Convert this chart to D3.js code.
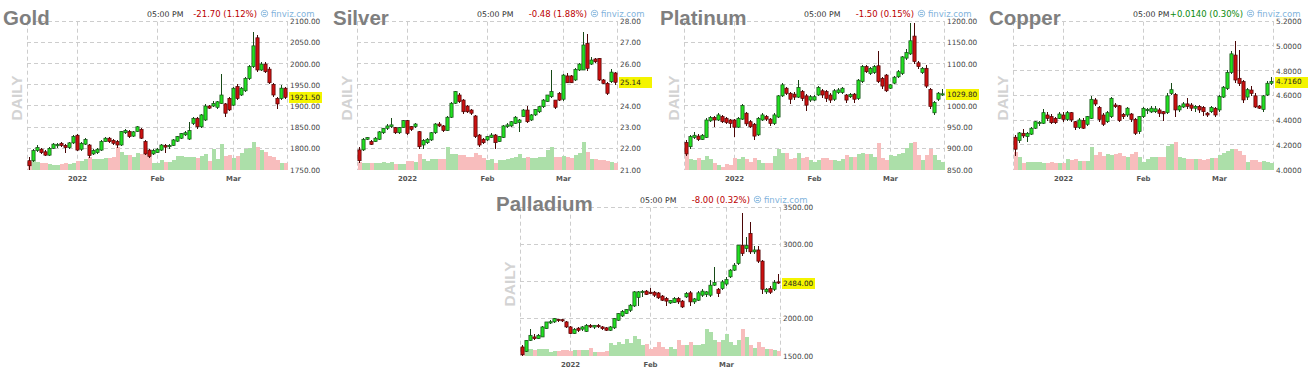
<!DOCTYPE html>
<html><head><meta charset="utf-8">
<script src="https://cdn.jsdelivr.net/npm/d3@7"></script>
<style>body{margin:0;background:#fff}svg{display:block}</style>
</head><body>
<svg id="chart" width="1312" height="376"></svg>
<script>
// ---------- data ----------
const dates = [
 "2021-12-15","2021-12-16","2021-12-17","2021-12-20","2021-12-21","2021-12-22","2021-12-23","2021-12-27","2021-12-28","2021-12-29","2021-12-30","2021-12-31",
 "2022-01-03","2022-01-04","2022-01-05","2022-01-06","2022-01-07","2022-01-10","2022-01-11","2022-01-12","2022-01-13","2022-01-14","2022-01-18","2022-01-19","2022-01-20","2022-01-21","2022-01-24","2022-01-25","2022-01-26","2022-01-27","2022-01-28","2022-01-31",
 "2022-02-01","2022-02-02","2022-02-03","2022-02-04","2022-02-07","2022-02-08","2022-02-09","2022-02-10","2022-02-11","2022-02-14","2022-02-15","2022-02-16","2022-02-17","2022-02-18","2022-02-22","2022-02-23","2022-02-24","2022-02-25","2022-02-28",
 "2022-03-01","2022-03-02","2022-03-03","2022-03-04","2022-03-07","2022-03-08","2022-03-09","2022-03-10","2022-03-11","2022-03-14","2022-03-15","2022-03-16","2022-03-17","2022-03-18"];

const commodities = ["Gold","Silver","Platinum","Copper","Palladium"];
const changeLabels = ["-21.70 (1.12%)","-0.48 (1.88%)","-1.50 (0.15%)","+0.0140 (0.30%)","-8.00 (0.32%)"];
const lastPrices = [1921.50, 25.14, 1029.80, 4.7160, 2484.00];
const timeLabel = "05:00 PM";

const goldTicks = [1750,1800,1850,1900,1950,2000,2050,2100];
const silverTicks = [21,22,23,24,25,26,27,28];
const platinumTicks = [850,900,950,1000,1050,1100,1150,1200];
const copperTicks = [4.0,4.2,4.4,4.6,4.8,5.0,5.2];
const palladiumTicks = [1500,2000,2500,3000,3500];

const goldOpen = [1772,1772,1796,1799,1793,1785,1801,1808,1813,1808,1803,1814,1832,1799,1811,1809,1788,1791,1797,1817,1825,1820,1817,1809,1838,1841,1830,1841,1846,1817,1797,1788,1791,1797,1808,1805,1808,1818,1825,1833,1823,1860,1872,1852,1868,1901,1901,1898,1907,1906,1919,1903,1947,1927,1937,1966,1994,2062,1986,2000,1988,1952,1919,1919,1943];
const goldHigh = [1781,1800,1810,1803,1797,1804,1814,1813,1817,1812,1816,1832,1834,1816,1826,1812,1799,1803,1820,1829,1828,1823,1820,1843,1846,1844,1843,1855,1850,1820,1800,1799,1802,1811,1812,1812,1824,1831,1838,1841,1864,1875,1875,1882,1905,1904,1914,1913,1977,1909,1923,1946,1952,1946,1969,1997,2076,2068,2005,2004,1992,1956,1922,1950,1946];
const goldLow = [1750,1770,1793,1787,1783,1784,1799,1803,1805,1790,1800,1812,1795,1796,1809,1778,1785,1788,1795,1815,1814,1810,1803,1806,1835,1826,1828,1839,1822,1785,1778,1786,1789,1795,1790,1800,1806,1816,1823,1830,1820,1857,1847,1849,1866,1893,1898,1895,1905,1876,1889,1900,1915,1924,1934,1963,1990,1982,1983,1978,1952,1922,1894,1916,1917];
const goldClose = [1760,1796,1803,1791,1785,1801,1811,1810,1808,1803,1814,1829,1797,1813,1822,1784,1796,1799,1817,1825,1817,1813,1809,1841,1843,1829,1840,1852,1825,1788,1782,1796,1799,1809,1804,1808,1821,1829,1836,1838,1843,1872,1852,1880,1901,1896,1907,1911,1927,1884,1892,1943,1919,1943,1966,1994,2043,1986,2000,1982,1956,1927,1906,1943.2,1921.5];
const goldVolume = [8,9,8,7,7,6,5,5,6,7,6,7,9,9,11,13,11,11,11,12,12,13,23,18,15,15,13,17,16,18,13,7,7,10,8,8,10,14,14,13,13,13,12,14,16,9,21,11,26,14,15,12,14,17,21,22,28,23,20,18,14,13,10,7,7];

const silverOpen = [21.95,21.95,22.45,22.34,22.34,22.45,22.76,22.97,23.05,23.00,22.76,23.00,23.33,23.05,23.05,22.81,22.18,22.29,22.42,22.76,23.17,23.08,22.86,23.49,24.15,24.54,24.30,24.02,23.83,23.55,22.65,22.45,22.42,22.54,22.65,22.34,22.54,23.05,23.08,23.20,23.24,23.52,23.83,23.36,23.60,23.75,23.99,24.23,24.46,24.30,24.62,24.34,25.44,25.44,25.25,25.72,25.72,26.98,26.00,26.24,26.27,25.25,25.09,25.17,25.58];
const silverHigh = [22.10,22.50,22.58,22.40,22.55,22.85,23.00,23.15,23.47,23.05,23.05,23.36,23.38,23.10,23.22,22.86,22.45,22.50,22.80,23.20,23.25,23.12,23.55,24.20,24.75,24.62,24.34,24.08,23.88,23.60,22.70,22.50,22.62,22.75,22.70,22.62,23.13,23.20,23.30,23.55,23.40,23.88,24.00,23.64,23.90,24.02,24.35,24.55,25.70,24.05,24.68,25.55,25.60,25.50,25.80,26.05,27.50,27.40,26.35,26.30,26.30,25.30,25.15,25.75,25.62];
const silverLow = [21.35,21.90,22.40,22.18,22.30,22.42,22.72,22.90,23.00,22.70,22.72,22.97,22.65,22.85,23.00,22.00,22.00,22.25,22.38,22.72,23.05,22.80,22.82,23.45,24.10,24.15,23.65,23.70,23.60,22.50,22.10,22.25,22.38,22.50,21.98,22.30,22.50,23.00,23.05,23.16,22.80,23.48,23.20,23.30,23.55,23.70,23.95,24.20,24.40,23.90,24.25,24.25,25.10,25.10,25.20,25.68,25.70,25.65,25.95,26.05,25.20,25.05,24.55,25.10,25.00];
const silverClose = [21.44,22.45,22.53,22.21,22.50,22.80,22.97,23.08,23.13,22.76,23.00,23.33,22.73,22.92,23.17,22.10,22.40,22.45,22.76,23.17,23.08,22.86,23.49,24.15,24.70,24.23,23.75,23.75,23.68,22.58,22.18,22.29,22.58,22.65,22.29,22.58,23.08,23.13,23.28,23.49,23.36,23.83,23.28,23.60,23.86,23.99,24.30,24.54,24.70,23.96,24.30,25.48,25.12,25.12,25.75,26.00,26.90,25.80,26.19,26.11,25.25,25.09,24.62,25.62,25.14];
const silverVolume = [8,7,7,7,7,7,8,7,8,6,6,6,9,9,8,16,11,9,11,11,11,11,23,16,16,15,15,13,13,17,15,12,10,11,7,10,10,11,12,13,16,12,13,12,12,13,13,20,23,13,13,14,13,12,15,17,28,18,11,11,10,10,9,8,7];

const platinumOpen = [915,905,927,930,922,927,966,974,968,976,972,968,968,951,970,984,964,958,933,968,976,970,960,975,1025,1043,1031,1029,1022,1035,1025,1015,1015,1027,1037,1035,1027,1017,1033,1033,1027,1023,1029,1019,1059,1094,1078,1080,1096,1066,1074,1043,1055,1070,1078,1114,1124,1166,1103,1080,1090,1040,985,1017,1027];
const platinumHigh = [920,932,940,934,936,972,978,977,985,979,975,971,971,976,1005,988,968,961,976,984,980,973,984,1028,1055,1047,1035,1033,1062,1039,1029,1027,1027,1048,1041,1039,1031,1040,1043,1047,1030,1032,1032,1065,1097,1098,1093,1097,1132,1069,1077,1054,1072,1085,1120,1135,1196,1196,1107,1093,1097,1043,1012,1034,1042];
const platinumLow = [882,900,924,919,920,925,963,952,965,960,958,950,928,948,967,955,948,920,930,965,966,955,957,972,1022,1027,1005,1015,1019,1012,990,1011,1012,1024,1020,1010,1008,1014,1029,1030,1007,1019,1008,1016,1056,1079,1075,1077,1055,1040,1033,1040,1052,1067,1075,1110,1121,1100,1088,1077,1044,995,980,1014,1024];
const platinumClose = [888,929,932,922,932,968,974,968,980,964,962,960,951,972,1002,959,952,930,972,980,970,960,980,1025,1051,1031,1017,1022,1045,1019,1003,1023,1023,1045,1027,1019,1015,1037,1039,1043,1015,1028,1017,1062,1094,1082,1090,1094,1059,1048,1037,1051,1069,1082,1117,1127,1155,1106,1094,1090,1048,1000,1009,1031.3,1029.8];
const platinumVolume = [16,11,10,12,10,14,11,7,5,3,6,5,12,11,13,11,8,12,10,7,7,7,14,21,17,17,11,12,17,12,13,10,8,10,12,12,10,10,9,11,15,13,13,16,17,16,16,13,27,12,10,15,14,16,17,22,27,28,15,10,15,21,15,10,8];

const copperOpen = [4.265,4.238,4.297,4.270,4.290,4.338,4.378,4.378,4.445,4.432,4.418,4.418,4.445,4.410,4.464,4.391,4.345,4.400,4.370,4.418,4.567,4.507,4.445,4.391,4.432,4.526,4.520,4.450,4.445,4.453,4.410,4.311,4.432,4.480,4.470,4.472,4.486,4.472,4.465,4.620,4.610,4.486,4.510,4.535,4.526,4.500,4.515,4.507,4.460,4.472,4.499,4.486,4.590,4.660,4.790,4.930,4.742,4.715,4.590,4.647,4.600,4.518,4.490,4.607,4.702];
const copperHigh = [4.28,4.31,4.33,4.31,4.35,4.40,4.40,4.49,4.47,4.45,4.43,4.47,4.47,4.48,4.47,4.40,4.42,4.42,4.44,4.60,4.58,4.52,4.46,4.48,4.59,4.54,4.53,4.46,4.51,4.46,4.42,4.44,4.51,4.50,4.52,4.52,4.50,4.48,4.62,4.70,4.62,4.53,4.55,4.58,4.54,4.53,4.53,4.52,4.47,4.52,4.51,4.61,4.68,4.81,4.96,5.04,4.97,4.73,4.66,4.68,4.62,4.53,4.61,4.72,4.75];
const copperLow = [4.11,4.22,4.26,4.23,4.28,4.33,4.36,4.37,4.40,4.37,4.37,4.41,4.39,4.40,4.39,4.32,4.33,4.33,4.36,4.41,4.52,4.39,4.36,4.38,4.42,4.50,4.39,4.41,4.43,4.39,4.28,4.29,4.42,4.45,4.46,4.46,4.43,4.40,4.45,4.61,4.43,4.47,4.50,4.49,4.48,4.47,4.46,4.44,4.43,4.46,4.43,4.47,4.58,4.65,4.78,4.70,4.68,4.54,4.57,4.60,4.50,4.49,4.47,4.60,4.69];
const copperClose = [4.168,4.300,4.276,4.297,4.338,4.391,4.386,4.464,4.418,4.383,4.383,4.453,4.410,4.464,4.405,4.345,4.405,4.338,4.432,4.572,4.534,4.410,4.370,4.464,4.580,4.513,4.400,4.432,4.500,4.410,4.297,4.432,4.499,4.490,4.500,4.495,4.459,4.455,4.600,4.650,4.486,4.518,4.535,4.515,4.500,4.515,4.486,4.472,4.445,4.507,4.445,4.594,4.670,4.790,4.940,4.728,4.700,4.567,4.650,4.620,4.510,4.500,4.600,4.702,4.716];
const copperVolume = [18,13,7,8,8,8,8,7,7,8,7,7,7,11,10,11,9,9,9,23,15,18,14,16,15,16,17,14,13,16,18,13,8,11,13,13,13,13,24,26,28,13,12,11,11,11,11,10,11,12,12,15,17,19,21,21,19,15,8,10,10,8,9,8,7];

const palladiumOpen = [1622,1563,1711,1757,1734,1757,1869,1945,1960,1995,1990,1960,1892,1802,1875,1862,1832,1910,1890,1912,1892,1880,1847,1880,1982,2040,2072,2117,2175,2290,2355,2375,2360,2360,2350,2308,2275,2215,2220,2275,2240,2297,2352,2230,2252,2320,2330,2320,2455,2400,2410,2470,2568,2658,2748,2995,2950,3153,2905,2930,2779,2365,2410,2400,2500];
const palladiumHigh = [1650,1720,1870,1790,1790,1900,1965,1990,2010,2005,2000,1970,1900,1880,1890,1900,1925,1925,1920,1925,1900,1890,1900,2015,2080,2120,2140,2200,2380,2380,2385,2390,2420,2380,2365,2320,2290,2260,2290,2290,2260,2360,2370,2280,2370,2400,2380,2520,2700,2420,2530,2560,2680,2760,3000,3423,3100,3311,2980,2990,2800,2420,2450,2520,2610];
const palladiumLow = [1505,1550,1700,1720,1725,1750,1860,1935,1950,1965,1960,1880,1790,1795,1820,1840,1820,1880,1870,1880,1850,1835,1840,1870,1970,2030,2060,2100,2160,2180,2300,2320,2330,2300,2270,2240,2180,2200,2210,2200,2150,2280,2180,2200,2240,2300,2300,2300,2440,2300,2390,2450,2550,2640,2730,2850,2900,2880,2870,2760,2330,2330,2340,2380,2470];
const palladiumClose = [1518,1711,1779,1734,1779,1892,1959,1962,2004,1985,1975,1892,1802,1860,1847,1892,1914,1892,1914,1895,1869,1847,1892,2004,2072,2100,2127,2185,2365,2365,2372,2330,2342,2320,2285,2252,2240,2250,2275,2230,2162,2342,2230,2270,2352,2375,2365,2455,2490,2342,2500,2530,2658,2725,2995,2883,2990,2905,2930,2779,2400,2400,2360,2492,2484];
const palladiumVolume = [9,7,7,6,7,7,7,4,5,5,6,6,5,6,6,6,6,8,4,4,4,5,13,11,14,12,17,13,20,17,11,12,7,9,14,9,7,9,7,16,11,11,14,11,11,12,27,24,16,14,16,22,14,11,16,27,19,11,8,14,9,7,7,6,5];

// ---------- layout ----------
const origins = [[0,0],[330,0],[657,0],[986,0],[493,186]];
const plotL = 27, plotW = 260, plotT = 21.7, plotB = 170;
const decimals = [2,2,2,4,2];

const series = [
 {o:goldOpen,h:goldHigh,l:goldLow,c:goldClose,v:goldVolume,t:goldTicks},
 {o:silverOpen,h:silverHigh,l:silverLow,c:silverClose,v:silverVolume,t:silverTicks},
 {o:platinumOpen,h:platinumHigh,l:platinumLow,c:platinumClose,v:platinumVolume,t:platinumTicks},
 {o:copperOpen,h:copperHigh,l:copperLow,c:copperClose,v:copperVolume,t:copperTicks},
 {o:palladiumOpen,h:palladiumHigh,l:palladiumLow,c:palladiumClose,v:palladiumVolume,t:palladiumTicks}
];

const UP_FILL="#22e022", UP_STROKE="#174a17", DN_FILL="#cc1010", DN_STROKE="#4a0606";
const VOL_UP="#acdfa9", VOL_DN="#f8bdbd";
const GRID="#cdcdcd";
const FONT="'DejaVu Sans', Verdana, sans-serif";

const svg = d3.select("#chart");
const parse = d3.timeParse("%Y-%m-%d");
const parsedDates = dates.map(parse);

const x = d3.scaleBand().domain(d3.range(dates.length)).range([plotL+1, plotL+1+plotW]).padding(0);
const cx = i => x(i) + 1.5;
const crisp = v => Math.round(v) + 0.5;

const monthStarts = [];
parsedDates.forEach((d,i)=>{ if(i>0 && d.getMonth()!==parsedDates[i-1].getMonth()) monthStarts.push(i); });
const monthLabel = d => d.getMonth()===0 ? d3.timeFormat("%Y")(d) : d3.timeFormat("%b")(d);

series.forEach((s, k) => {
  const g = svg.append("g").attr("transform", `translate(${origins[k][0]},${origins[k][1]})`);
  const y = d3.scaleLinear().domain([s.t[0], s.t[s.t.length-1]]).range([plotB, plotT]);
  const yv = d3.scaleLinear().domain([0, 30]).range([0, 30]);

  // grid
  const grid = g.append("g").attr("stroke", GRID).attr("stroke-dasharray","4,3").attr("stroke-width",1);
  s.t.forEach(t => grid.append("line").attr("x1",plotL).attr("x2",plotL+plotW+1).attr("y1",crisp(y(t))-1).attr("y2",crisp(y(t))-1));
  [plotL+0.5, plotL+plotW+0.5].forEach(xx => grid.append("line").attr("x1",xx).attr("x2",xx).attr("y1",plotT).attr("y2",plotB));
  monthStarts.forEach(i => grid.append("line").attr("x1",cx(i)).attr("x2",cx(i)).attr("y1",plotT).attr("y2",plotB));

  // volume
  g.append("g").selectAll("rect").data(s.v).join("rect")
    .attr("x",(d,i)=>x(i)).attr("width",x.bandwidth())
    .attr("y",d=>plotB-Math.round(yv(d))).attr("height",d=>Math.round(yv(d)))
    .attr("fill",(d,i)=> s.c[i]>=s.o[i] ? VOL_UP : VOL_DN);

  // candles
  const cg = g.append("g");
  s.o.forEach((o,i)=>{
    const c = s.c[i], up = c>=o;
    const st = up?UP_STROKE:DN_STROKE;
    cg.append("line").attr("x1",cx(i)).attr("x2",cx(i))
      .attr("y1",Math.round(y(s.h[i]))).attr("y2",Math.round(y(s.l[i])))
      .attr("stroke",st).attr("stroke-width",1);
    const top = y(Math.max(o,c)), bot = y(Math.min(o,c));
    cg.append("rect").attr("x",cx(i)-1.6).attr("width",3.2)
      .attr("y",top).attr("height",Math.max(1.2,bot-top))
      .attr("fill",up?UP_FILL:DN_FILL).attr("stroke",st).attr("stroke-width",0.7);
  });

  // y labels (labels hidden under the last-price tag are skipped)
  const fmt = d3.format(`.${decimals[k]}f`);
  const ly = y(lastPrices[k]);
  g.append("g").selectAll("text").data(s.t.filter(t => Math.abs(y(t)-ly) > 9)).join("text")
    .attr("x",plotL+plotW+3).attr("y",d=>y(d)).attr("dy","0.35em")
    .attr("font-family",FONT).attr("font-size",7.3).attr("fill","#444").text(fmt);

  // last price tag
  g.append("rect").attr("x",plotL+plotW+2).attr("y",Math.round(ly)-5).attr("width",33).attr("height",11).attr("fill","#f4f400");
  g.append("text").attr("x",plotL+plotW+3).attr("y",ly).attr("dy","0.38em")
    .attr("font-family",FONT).attr("font-size",7.3).attr("fill","#222").text(fmt(lastPrices[k]));

  // month labels
  g.append("g").selectAll("text").data(monthStarts).join("text")
    .attr("x",i=>cx(i)).attr("y",181).attr("text-anchor","middle")
    .attr("font-family",FONT).attr("font-weight","bold").attr("font-size",6.9).attr("fill","#555")
    .text(i=>monthLabel(parsedDates[i]));

  // DAILY
  g.append("text").attr("transform",`translate(16.5,${(plotT+plotB)/2+2}) rotate(-90)`)
    .attr("text-anchor","middle").attr("dy","0.35em")
    .attr("font-family","'Liberation Sans', Arial, sans-serif").attr("font-weight","bold")
    .attr("font-size",15.5).attr("fill","#d3d3d3").text("DAILY");

  // title
  g.append("text").attr("x",3).attr("y",25)
    .attr("font-family","'Liberation Sans', Arial, sans-serif").attr("font-weight","bold")
    .attr("font-size",20.5).attr("fill","#7f7f7f").text(commodities[k]);

  // header
  g.append("text").attr("x",147).attr("y",16.5).attr("font-family",FONT).attr("font-size",7.8)
    .attr("fill","#333").text(timeLabel);
  const ch = changeLabels[k];
  g.append("text").attr("x",257).attr("y",16.5).attr("text-anchor","end").attr("font-family",FONT)
    .attr("font-size",8.5).attr("fill", ch[0]==="+" ? "#0a8a0a" : "#bb0000").text(ch);
  const ic = g.append("g").attr("transform","translate(264.5,13.5)").attr("stroke","#8dbbe0").attr("fill","none");
  ic.append("circle").attr("r",3.2);
  ic.append("line").attr("x1",-1.6).attr("x2",1.6).attr("y1",-0.9).attr("y2",-0.9);
  ic.append("line").attr("x1",-1.6).attr("x2",1.6).attr("y1",1).attr("y2",1);
  g.append("text").attr("x",271).attr("y",16.5).attr("font-family",FONT).attr("font-size",8.5)
    .attr("fill","#7fb3dc").text("finviz.com");
});
</script>
</body></html>
